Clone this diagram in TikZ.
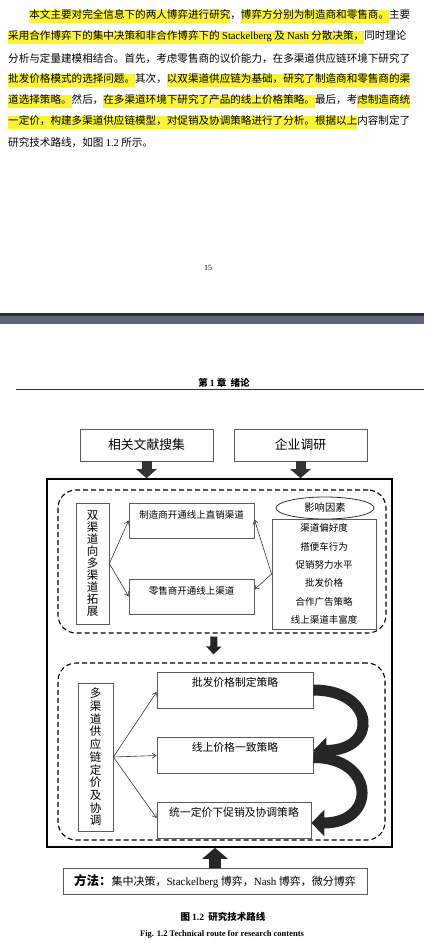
\documentclass[tikz,border=0pt]{standalone}
\usepackage{fontspec}
\setmainfont{Liberation Serif}
\newfontfamily\cjk{Noto Sans CJK SC}
\usetikzlibrary{arrows.meta, positioning, shapes.geometric}
\definecolor{hlYellow}{HTML}{F8F23A}
\definecolor{bandGray}{HTML}{5E6579}
\definecolor{bandDark}{HTML}{2B2F3A}
\definecolor{boxGray}{HTML}{5A5A5A}
\XeTeXlinebreaklocale "zh"
\XeTeXlinebreakskip=0pt plus 1pt
\newcommand\fs[2]{\fontsize{#1}{#2}\selectfont}
\newcommand\hilite[1]{{\setlength{\fboxsep}{0pt}\colorbox{hlYellow}{\strut #1}}}

\begin{document}
\begin{tikzpicture}[x=1pt, y=-1pt,
    every node/.style={align=center},
    parline/.style={anchor=west, inner sep=0pt, font=\cjk\fs{10.58}{13}},
    src/.style={draw=boxGray, line width=.8pt, minimum width=133pt, minimum height=32pt,
      font=\cjk\fs{12.8}{15}},
    frame/.style={draw=black, line width=1.6pt},
    zone/.style={draw=black, line width=1.1pt, dash pattern=on 5pt off 3pt, rounded corners=18pt},
    stack/.style={draw=boxGray, line width=.8pt, inner sep=0pt, font=\cjk\fs{11.5}{12}},
    chan/.style={draw=boxGray, line width=.8pt, minimum width=125pt, minimum height=35pt,
      text height=8pt, text depth=13pt, font=\cjk\fs{9.5}{11}},
    strat/.style={draw=boxGray, line width=.8pt, minimum width=156pt, minimum height=36pt,
      text height=9pt, text depth=17pt, font=\cjk\fs{10.8}{12}},
    oval/.style={ellipse, draw=black!80, line width=.8pt, minimum width=98pt, minimum height=22pt,
      inner sep=0pt, font=\cjk\fs{10.3}{12}},
    factorlist/.style={draw=boxGray, line width=.8pt, minimum width=104pt, minimum height=110pt,
      font=\cjk\fs{9.5}{18.4}},
    methodbox/.style={draw=boxGray, line width=.8pt, minimum width=304pt, minimum height=26pt,
      font=\cjk\fs{11}{13}},
    link/.style={draw=black!80, line width=.6pt, -{Straight Barb[length=4pt,width=5pt]}},
    bigdown/.style={draw=black!80, line width=10pt, -{Triangle[length=9pt,width=20pt]}},
    middown/.style={draw=black!85, line width=7pt, -{Triangle[length=8pt,width=15pt]}},
    bigup/.style={draw=black!85, line width=12pt, -{Triangle[length=11pt,width=25pt]}},
    swirl/.style={draw=black!85, line width=11pt, -{Triangle[length=13pt,width=26pt]}}]

  \fill[white] (0,0) rectangle (424,943);
  \useasboundingbox (0,0) rectangle (424,943);

  % text of the page above
  \node[parline] (l1) at (29.2,16) {\hilite{本文主要对完全信息下的两人博弈进行研究}，\hilite{博弈方分别为制造商和零售商。}主要};
  \node[parline] (l2) at (8,37) {\hbox to 402pt{\hilite{采用合作博弈下的集中决策和非合作博弈下的 {\rmfamily Stackelberg} 及 {\rmfamily Nash} 分散决策，}同时理论}};
  \node[parline] (l3) at (8,59) {分析与定量建模相结合。首先，考虑零售商的议价能力，在多渠道供应链环境下研究了};
  \node[parline] (l4) at (8,80) {\hilite{批发价格模式的选择问题。}其次，\hilite{以双渠道供应链为基础，研究了制造商和零售商的渠}};
  \node[parline] (l5) at (8,101) {\hilite{道选择策略。}然后，\hilite{在多渠道环境下研究了产品的线上价格策略。}最后，考\hilite{虑制造商统}};
  \node[parline] (l6) at (8,122) {\hilite{一定价，构建多渠道供应链模型，对促销及协调策略进行了分析。根据以上}内容制定了};
  \node[parline] (l7) at (8,143) {研究技术路线，如图 {\rmfamily 1.2} 所示。};
  \node[font=\fs{8}{9}] (pagenum) at (208,268) {15};

  % page break band
  \fill[bandDark] (0,313) rectangle (424,315.5);
  \fill[bandGray] (0,315.5) rectangle (424,324);
  \node[font=\cjk\bfseries\fs{9.5}{11}] (chap) at (224,383) {第 {\rmfamily 1} 章\ \ 绪论};
  \draw[black!80, line width=.8pt] (16,389) -- (424,389);

  % figure
  \node[src] (lit) at (146.5,445) {相关文献搜集};
  \node[src] (survey) at (300.5,445) {企业调研};
  \node[frame, minimum width=345pt, minimum height=368pt] (outer) at (219.5,663) {};

  \node[zone, minimum width=328pt, minimum height=143pt] (zone1) at (222,561.5) {};
  \node[stack, minimum width=33pt, minimum height=121pt] (expand) at (92.5,563.5)
    {双\\渠\\道\\向\\多\\渠\\道\\拓\\展};
  \node[chan] (mfr) at (191.5,520.5) {制造商开通线上直销渠道};
  \node[chan] (ret) at (191.5,596.5) {零售商开通线上渠道};
  \node[oval] (factor) at (325,508) {影响因素};
  \node[factorlist] (factors) at (324,574)
    {渠道偏好度\\搭便车行为\\促销努力水平\\批发价格\\合作广告策略\\线上渠道丰富度};

  \node[zone, minimum width=327pt, minimum height=177pt] (zone2) at (221.5,751.5) {};
  \node[stack, minimum width=35pt, minimum height=148pt, font=\cjk\fs{11.5}{12.7}] (pricing) at (95.5,757)
    {多\\渠\\道\\供\\应\\链\\定\\价\\及\\协\\调};
  \node[strat] (whole) at (235,690) {批发价格制定策略};
  \node[strat] (online) at (235,755.5) {线上价格一致策略};
  \node[strat, minimum width=154pt] (promo) at (234,820) {统一定价下促销及协调策略};

  \node[methodbox] (method) at (215,881)
    {{\bfseries\fs{12.5}{14}方法：}集中决策，{\rmfamily Stackelberg} 博弈，{\rmfamily Nash} 博弈，微分博弈};

  \draw[bigdown] (lit.south) -- (lit.south |- outer.north);
  \draw[bigdown] (survey.south) -- (survey.south |- outer.north);
  \draw[link] (expand.east) -- (mfr.west);
  \draw[link] (expand.east) -- (ret.west);
  \draw[link] (factors.west) -- ([yshift=1pt]mfr.east);
  \draw[link] (factors.west) -- ([yshift=7pt]ret.east);
  \draw[middown] ([xshift=-8pt,yshift=-3pt]zone1.south) -- ([xshift=-8pt,yshift=8pt]zone2.north);
  \draw[link] (pricing.east) -- ([yshift=-2pt]whole.west);
  \draw[link] (pricing.east) -- (online.west);
  \draw[link] (pricing.east) -- ([yshift=2pt]promo.west);
  \draw[swirl] (whole.east) .. controls +(62,0) and +(66,0) .. ([yshift=5pt]online.east);
  \draw[swirl] ([yshift=-2pt]online.east) .. controls +(62,0) and +(66,0) .. ([yshift=-3pt]promo.east);
  \draw[bigup] (method.north) -- (method.north |- outer.south);

  \node[font=\cjk\bfseries\fs{9.5}{11}] (figcn) at (223,917) {图 {\rmfamily 1.2}\ \ 研究技术路线};
  \node[font=\bfseries\fs{8.5}{10}] (figen) at (222,934) {Fig. 1.2 Technical route for research contents};
\end{tikzpicture}
\end{document}
